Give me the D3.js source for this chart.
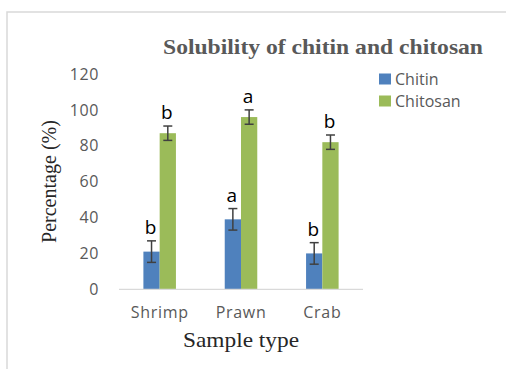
<!DOCTYPE html>
<html><head><meta charset="utf-8">
<script src="https://cdn.jsdelivr.net/npm/d3@7"></script>
<style>body{margin:0;background:#fff}svg{display:block}</style>
</head><body>
<svg id="c" width="506" height="369"></svg>
<script>
const categories = ["Shrimp", "Prawn", "Crab"];
const seriesNames = ["Chitin", "Chitosan"];
const chitin = [21, 39, 20];
const chitosan = [87, 96, 82];
const chitinErr = [6, 6, 6];
const chitosanErr = [4, 4, 4];
const chitinLetters = ["b", "a", "b"];
const chitosanLetters = ["b", "a", "b"];
const yTicks = [0, 20, 40, 60, 80, 100, 120];
const colors = ["#4F81BD", "#9BBB59"];

const svg = d3.select("#c");
// frame
svg.append("rect").attr("x", 7).attr("y", 12).attr("width", 520).attr("height", 400)
  .attr("fill", "none").attr("stroke", "#D9D9D9").attr("stroke-width", 1.5);

const m = {left: 119, right: 363, top: 74, bottom: 289.3};
const x = d3.scaleBand().domain(categories).range([m.left, m.right]).paddingInner(0.6).paddingOuter(0.3);
const x1 = d3.scaleBand().domain(seriesNames).range([0, x.bandwidth()]);
const y = d3.scaleLinear().domain([0, 120]).range([m.bottom, m.top]);

const data = [];
categories.forEach((c, i) => {
  data.push({cat: c, s: "Chitin", v: chitin[i], e: chitinErr[i], l: chitinLetters[i], k: 0});
  data.push({cat: c, s: "Chitosan", v: chitosan[i], e: chitosanErr[i], l: chitosanLetters[i], k: 1});
});

// y tick labels
const yAxis = d3.axisLeft(y).tickValues(yTicks).tickSize(0).tickPadding(0);
const ya = svg.append("g").attr("transform", `translate(99,0)`).call(yAxis);
ya.select(".domain").remove();
ya.selectAll("text").attr("font-family", "Open Sans, sans-serif").attr("font-size", 16)
  .attr("letter-spacing", 0.6).attr("fill", "#595959");

// bars
svg.append("g").selectAll("rect").data(data).join("rect")
  .attr("x", d => x(d.cat) + x1(d.s)).attr("width", x1.bandwidth())
  .attr("y", d => y(d.v)).attr("height", d => y(0) - y(d.v))
  .attr("fill", d => colors[d.k]);

// x axis
const xAxis = d3.axisBottom(x).tickSize(0).tickPadding(0);
const xa = svg.append("g").attr("transform", `translate(0,${m.bottom})`).call(xAxis);
xa.select(".domain").attr("stroke", "#D9D9D9").attr("stroke-width", 1.2)
  .attr("d", `M${m.left},0H${m.right}`);
xa.selectAll("text").attr("font-family", "Open Sans, sans-serif").attr("font-size", 16)
  .attr("fill", "#595959").attr("dy", 0).attr("y", 29).attr("letter-spacing", 0.7);

// error bars
const eb = svg.append("g").attr("stroke", "#404040").attr("stroke-width", 1.5);
data.forEach(d => {
  const cx = x(d.cat) + x1(d.s) + x1.bandwidth() / 2;
  eb.append("line").attr("x1", cx).attr("x2", cx).attr("y1", y(d.v + d.e)).attr("y2", y(d.v - d.e));
  eb.append("line").attr("x1", cx - 4.5).attr("x2", cx + 4.5).attr("y1", y(d.v + d.e)).attr("y2", y(d.v + d.e));
  eb.append("line").attr("x1", cx - 4.5).attr("x2", cx + 4.5).attr("y1", y(d.v - d.e)).attr("y2", y(d.v - d.e));
});

// letters
svg.append("g").selectAll("text").data(data).join("text")
  .attr("x", d => x(d.cat) + x1(d.s) + x1.bandwidth() / 2 - 1)
  .attr("y", d => y(d.v + d.e) - 7)
  .attr("text-anchor", "middle").attr("font-family", "Open Sans, sans-serif").attr("font-size", 19)
  .attr("fill", "#000").text(d => d.l);

// title
svg.append("text").attr("x", 163).attr("y", 54).attr("font-family", "Liberation Serif, Times New Roman, serif")
  .attr("font-weight", "bold").attr("font-size", 21).attr("fill", "#595959")
  .attr("textLength", 320).attr("lengthAdjust", "spacingAndGlyphs")
  .text("Solubility of chitin and chitosan");

// y title
svg.append("text").attr("transform", "translate(56,181.5) rotate(-90)").attr("text-anchor", "middle")
  .attr("font-family", "Liberation Serif, Times New Roman, serif").attr("font-size", 20).attr("fill", "#262626")
  .attr("textLength", 123).attr("lengthAdjust", "spacingAndGlyphs")
  .text("Percentage (%)");

// x title
svg.append("text").attr("x", 241).attr("y", 347).attr("text-anchor", "middle")
  .attr("font-family", "Liberation Serif, Times New Roman, serif").attr("font-size", 21).attr("fill", "#262626")
  .attr("textLength", 116).attr("lengthAdjust", "spacingAndGlyphs")
  .text("Sample type");

// legend
const lg = svg.append("g");
seriesNames.forEach((s, i) => {
  lg.append("rect").attr("x", 379).attr("y", 73.5 + i * 22).attr("width", 12).attr("height", 11).attr("fill", colors[i]);
  lg.append("text").attr("x", 395).attr("y", 79 + i * 22).attr("dy", "0.35em")
    .attr("font-family", "Open Sans, sans-serif").attr("font-size", 16).attr("fill", "#595959").text(s);
});
</script>
</body></html>
